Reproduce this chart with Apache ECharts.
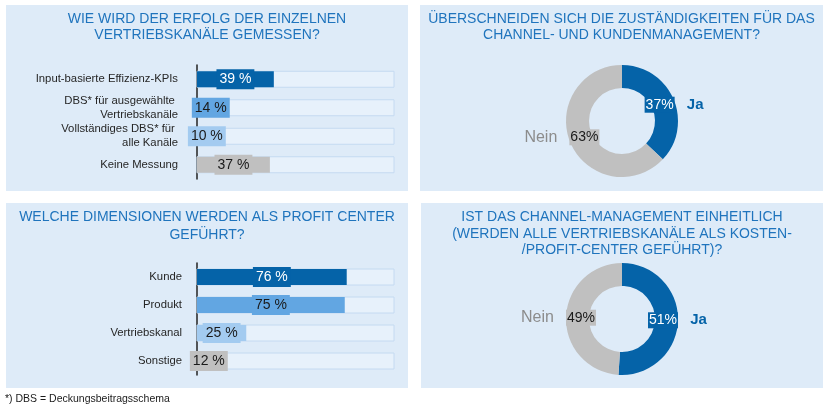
<!DOCTYPE html>
<html><head><meta charset="utf-8">
<script src="https://cdn.jsdelivr.net/npm/echarts@6/dist/echarts.min.js"></script>
<style>html,body{margin:0;padding:0;background:#fff}#c{width:825px;height:413px}</style>
</head><body><div id="c"></div>
<script>
// ---- data ----
const measureCategories = ['Input-basierte Effizienz-KPIs', 'DBS* für ausgewählte \nVertriebskanäle', 'Vollständiges DBS* für \nalle Kanäle', 'Keine Messung'];
const measureValues = [39, 14, 10, 37];
const profitCategories = ['Kunde', 'Produkt', 'Vertriebskanal', 'Sonstige'];
const profitValues = [76, 75, 25, 12];
const overlapNames = ['Ja', 'Nein'];
const overlapValues = [37, 63];
const uniformNames = ['Ja', 'Nein'];
const uniformValues = [51, 49];
const titleTL = 'WIE WIRD DER ERFOLG DER EINZELNEN\nVERTRIEBSKANÄLE GEMESSEN?';
const titleTR = 'ÜBERSCHNEIDEN SICH DIE ZUSTÄNDIGKEITEN FÜR DAS\nCHANNEL- UND KUNDENMANAGEMENT?';
const titleBL = 'WELCHE DIMENSIONEN WERDEN ALS PROFIT CENTER\nGEFÜHRT?';
const titleBR = 'IST DAS CHANNEL-MANAGEMENT EINHEITLICH\n(WERDEN ALLE VERTRIEBSKANÄLE ALS KOSTEN-\n/PROFIT-CENTER GEFÜHRT)?';
const footnote = '*) DBS = Deckungsbeitragsschema';

// ---- styles ----
const FONT = "'Liberation Sans', Arial, sans-serif";
const DARK = '#0563a8', MID = '#62a6e2', LIGHT = '#a3cbf0', GREY = '#c0c0c0';
const barColors = [DARK, MID, LIGHT, GREY];
const barTextColors = ['#ffffff', '#1a1a1a', '#1a1a1a', '#1a1a1a'];
const PANEL = '#deebf8';
const TITLE_COLOR = '#1f74bd';

function barData(values) {
  return values.map((v, i) => ({
    value: v,
    itemStyle: { color: barColors[i] },
    label: { color: barTextColors[i], backgroundColor: barColors[i] }
  }));
}

function barSeries(values, idx) {
  return {
    type: 'bar', xAxisIndex: idx, yAxisIndex: idx,
    barWidth: 16,
    showBackground: true,
    backgroundStyle: { color: '#e7f1fb', borderColor: '#c4daf1', borderWidth: 1 },
    data: barData(values),
    silent: true,
    label: {
      show: true, position: 'inside', formatter: '{c} %',
      fontFamily: FONT, fontSize: 14, lineHeight: 16, padding: [2, 3, 2, 3]
    }
  };
}

function pieLabelFormatter(p) {
  if (p.name === 'Ja') return '{s|}{pj|' + p.value + '%}{g|}{nj|Ja}';
  return '{nn|Nein}{g|}{pn|' + p.value + '%}{s2|}';
}
const pieRich = {
  s: { width: 29 }, s2: { width: 45 }, g: { width: 12 },
  pj: { backgroundColor: DARK, color: '#fff', fontSize: 14, lineHeight: 14, padding: [1, 1, 1, 1], fontFamily: FONT },
  pn: { backgroundColor: GREY, color: '#1a1a1a', fontSize: 14, lineHeight: 14, padding: [1, 1, 1, 1], fontFamily: FONT },
  nj: { color: DARK, fontSize: 15, fontWeight: 'bold', width: 17, fontFamily: FONT },
  nn: { color: '#8c8c8c', fontSize: 16, width: 33, align: 'right', fontFamily: FONT }
};
function pieSeries(names, values, center) {
  const data = names.map((n, i) => ({ name: n, value: values[i], itemStyle: { color: n === 'Ja' ? DARK : GREY } }));
  return [
    { type: 'pie', center: center, radius: [33, 56], startAngle: 90, clockwise: true, silent: true,
      label: { show: false }, labelLine: { show: false }, data: data },
    { type: 'pie', center: center, radius: [24, 52], startAngle: 90, clockwise: true, silent: true,
      itemStyle: { color: 'rgba(0,0,0,0)', borderWidth: 0 },
      label: { show: true, position: 'inside', formatter: pieLabelFormatter, rich: pieRich, textBorderWidth: 0 },
      labelLine: { show: false },
      data: names.map((n, i) => ({ name: n, value: values[i] })) }
  ];
}

function titleOpt(text, x, top, lh) {
  return { text: text, left: x, top: top, textAlign: 'center', padding: 0,
    textStyle: { fontFamily: FONT, fontSize: 14, fontWeight: 'normal', color: TITLE_COLOR, lineHeight: lh } };
}

const yAxisBase = (cats, margin) => ({
  type: 'category', data: cats, inverse: true,
  axisLine: { show: true, lineStyle: { color: '#222', width: 1.5 } },
  axisTick: { show: false },
  axisLabel: { fontFamily: FONT, fontSize: 11.3, color: '#262626', lineHeight: 14, margin: margin, align: 'right' }
});

const option = {
  animation: false,
  backgroundColor: '#ffffff',
  graphic: [
    { type: 'rect', shape: { x: 6, y: 5, width: 402, height: 186 }, style: { fill: PANEL }, z: -10, silent: true },
    { type: 'rect', shape: { x: 420, y: 5, width: 403, height: 186 }, style: { fill: PANEL }, z: -10, silent: true },
    { type: 'rect', shape: { x: 6, y: 203, width: 402, height: 185 }, style: { fill: PANEL }, z: -10, silent: true },
    { type: 'rect', shape: { x: 421, y: 203, width: 402, height: 185 }, style: { fill: PANEL }, z: -10, silent: true },
    { type: 'text', x: 5, y: 399, style: { text: footnote, fontFamily: FONT, fontSize: 10.5, fill: '#1a1a1a', textVerticalAlign: 'middle' }, silent: true }
  ],
  title: [
    titleOpt(titleTL, 207, 11, 16),
    titleOpt(titleTR, 621.5, 11, 16),
    titleOpt(titleBL, 207, 208.5, 17.5),
    titleOpt(titleBR, 622, 209, 16.5)
  ],
  grid: [
    { left: 197, width: 197, top: 65, height: 114 },
    { left: 197, width: 197, top: 263, height: 112 }
  ],
  xAxis: [
    { type: 'value', gridIndex: 0, min: 0, max: 100, show: false },
    { type: 'value', gridIndex: 1, min: 0, max: 100, show: false }
  ],
  yAxis: [
    Object.assign({ gridIndex: 0 }, yAxisBase(measureCategories, 19)),
    Object.assign({ gridIndex: 1 }, yAxisBase(profitCategories, 15))
  ],
  series: [
    barSeries(measureValues, 0),
    barSeries(profitValues, 1),
    ...pieSeries(overlapNames, overlapValues, [622, 121]),
    ...pieSeries(uniformNames, uniformValues, [622, 319])
  ]
};
const chart = echarts.init(document.getElementById('c'), null, { renderer: 'canvas' });
chart.setOption(option);
</script></body></html>
